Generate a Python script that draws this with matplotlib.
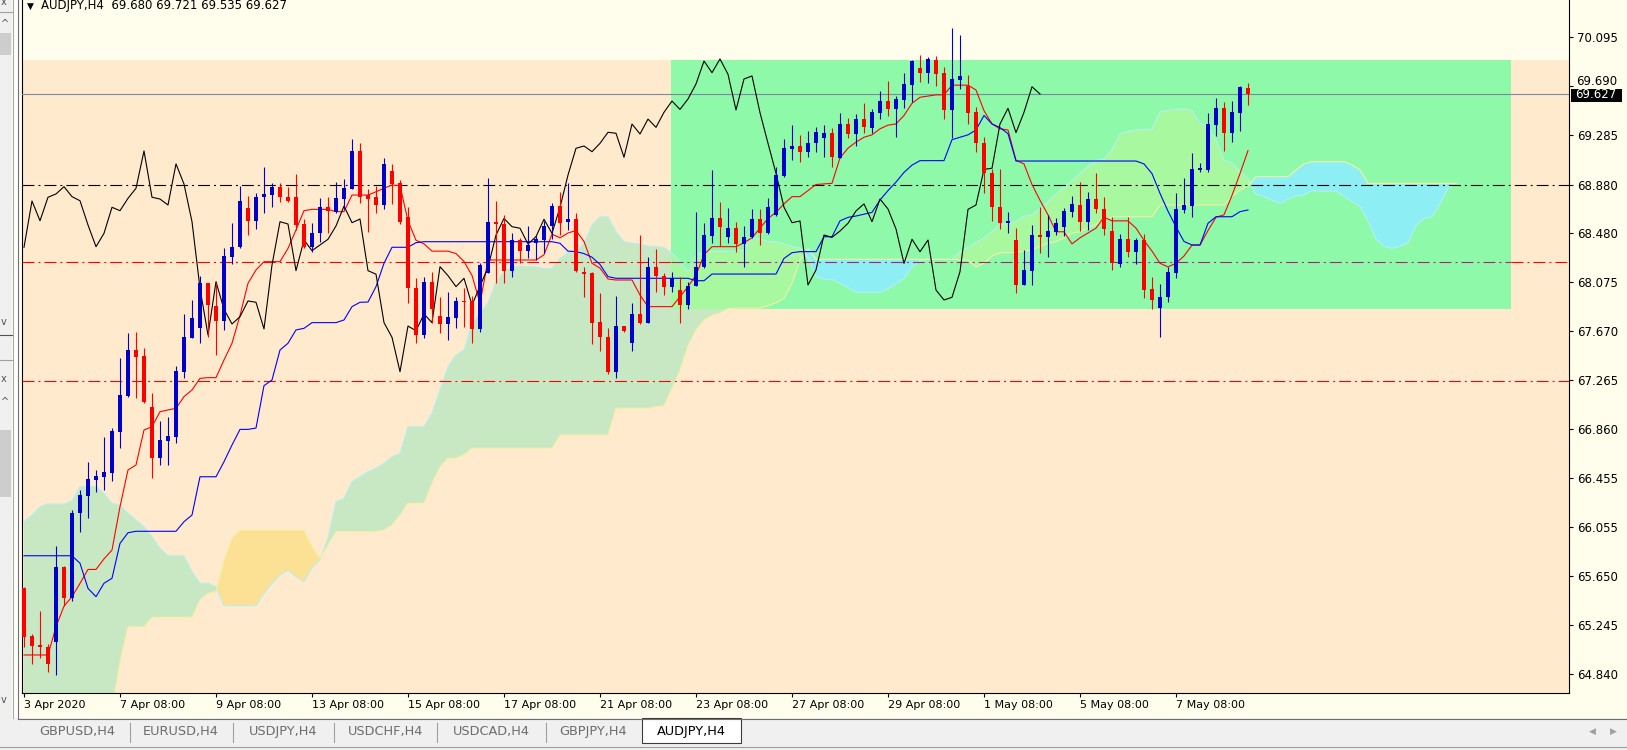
import numpy as np
import matplotlib
matplotlib.use('Agg')
import matplotlib.pyplot as plt
from matplotlib.patches import Rectangle

plt.rcParams['font.family'] = ['DejaVu Sans']
plt.rcParams['lines.scale_dashes'] = False

# ---- candles (H4 bars, index 0 = 3 Apr 2020) ----
opens = [
    65.55, 65.15, 65.075, 65.064, 65.106, 65.721, 65.47, 66.166, 66.312, 66.441,
    66.468, 66.50, 66.84, 67.137, 67.514, 67.465, 67.046, 66.62, 66.765, 66.798,
    67.335, 67.616, 67.693, 68.065, 67.877, 67.756, 68.284, 68.362, 68.684, 68.581,
    68.775, 68.793, 68.862, 68.775, 68.775, 68.554, 68.362, 68.477, 68.692, 68.656,
    68.76, 68.845, 69.157, 68.793, 68.775, 68.711, 68.992, 68.895, 68.614, 68.023,
    67.638, 68.078, 67.797, 67.729, 67.781, 67.92, 67.921, 67.688, 68.153, 68.573,
    68.554, 68.169, 68.422, 68.334, 68.40, 68.42, 68.535, 68.702, 68.57, 68.595,
    68.155, 68.153, 67.743, 67.619, 67.335, 67.712, 67.574, 67.811, 67.74, 68.202,
    68.128, 68.037, 68.009, 67.886, 68.042, 68.197, 68.457, 68.60, 68.45, 68.519,
    68.389, 68.45, 68.593, 68.477, 68.628, 68.95, 69.176, 69.198, 69.151, 69.225,
    69.262, 69.303, 69.102, 69.379, 69.297, 69.42, 69.344, 69.473, 69.569, 69.503,
    69.577, 69.701, 69.844, 69.803, 69.908, 69.803, 69.495, 69.743, 69.693, 69.481,
    69.22, 68.978, 68.692, 68.565, 68.422, 68.051, 68.169, 68.463, 68.444, 68.49,
    68.532, 68.65, 68.711, 68.573, 68.76, 68.678, 68.496, 68.224, 68.428, 68.325,
    68.422, 68.015, 67.858, 67.949, 68.153, 68.67, 68.705, 69.0, 69.0, 69.371,
    69.509, 69.308, 69.473, 69.680]
highs = [
    65.56, 65.17, 65.36, 65.09, 65.90, 65.73, 66.19, 66.36, 66.59, 66.52,
    66.796, 66.87, 67.446, 67.655, 67.665, 67.528, 67.16, 66.928, 66.96, 67.382,
    67.81, 67.927, 68.125, 68.07, 68.07, 68.36, 68.565, 68.868, 68.785, 68.812,
    69.027, 68.895, 68.89, 68.86, 68.967, 68.593, 68.565, 68.766, 68.78, 68.903,
    68.923, 69.253, 69.22, 68.84, 68.866, 69.099, 69.05, 68.92, 68.695, 68.106,
    68.119, 68.16, 67.954, 67.995, 67.954, 68.028, 67.96, 68.23, 68.931, 68.746,
    68.628, 68.477, 68.44, 68.538, 68.455, 68.58, 68.725, 68.815, 68.895, 68.642,
    68.2, 68.16, 67.981, 67.693, 67.962, 67.715, 67.90, 68.463, 68.284, 68.348,
    68.147, 68.16, 68.12, 68.078, 68.655, 68.565, 69.0, 68.733, 68.689, 68.573,
    68.538, 68.675, 68.675, 68.766, 69.027, 69.253, 69.371, 69.288, 69.324, 69.352,
    69.371, 69.344, 69.473, 69.428, 69.462, 69.55, 69.50, 69.652, 69.734, 69.61,
    69.798, 69.908, 69.949, 69.935, 69.94, 69.852, 70.17, 70.114, 69.784, 69.517,
    69.275, 69.005, 69.005, 68.656, 68.519, 68.339, 68.546, 68.697, 68.628, 68.6,
    68.684, 68.785, 68.903, 68.82, 68.972, 68.78, 68.61, 68.47, 68.614, 68.436,
    68.47, 68.119, 68.059, 68.202, 68.812, 68.931, 69.142, 69.06, 69.468, 69.591,
    69.564, 69.569, 69.693, 69.721]
lows = [
    65.06, 64.92, 64.97, 64.858, 64.83, 65.40, 65.44, 66.015, 66.13, 66.34,
    66.36, 66.435, 66.703, 67.13, 67.115, 67.08, 66.46, 66.565, 66.565, 66.749,
    67.28, 67.61, 67.574, 67.62, 67.473, 67.68, 68.224, 68.354, 68.463, 68.51,
    68.642, 68.692, 68.738, 68.738, 68.504, 68.354, 68.32, 68.408, 68.482, 68.642,
    68.675, 68.84, 68.725, 68.49, 68.642, 68.678, 68.719, 68.55, 67.90, 67.569,
    67.61, 67.735, 67.652, 67.597, 67.698, 67.706, 67.574, 67.665, 68.15, 68.065,
    68.065, 68.119, 68.23, 68.271, 68.257, 68.317, 68.428, 68.463, 68.504, 68.16,
    67.954, 67.564, 67.508, 67.316, 67.28, 67.66, 67.508, 67.73, 67.735, 67.995,
    67.968, 67.995, 67.735, 67.85, 68.04, 68.19, 68.40, 68.372, 68.40, 68.325,
    68.202, 68.44, 68.38, 68.47, 68.62, 68.94, 69.083, 69.069, 69.11, 69.151,
    69.11, 69.022, 69.10, 69.262, 69.198, 69.303, 69.303, 69.418, 69.445, 69.27,
    69.509, 69.563, 69.728, 69.72, 69.693, 69.418, 69.262, 69.665, 69.379, 69.151,
    68.807, 68.581, 68.51, 68.482, 67.982, 68.05, 68.051, 68.311, 68.284, 68.463,
    68.455, 68.614, 68.499, 68.504, 68.647, 68.463, 68.175, 68.202, 68.284, 68.224,
    67.94, 67.85, 67.619, 67.913, 68.106, 68.642, 68.61, 68.985, 68.986, 69.28,
    69.159, 69.233, 69.32, 69.535]
closes = [
    65.145, 65.07, 65.065, 64.924, 65.726, 65.47, 66.171, 66.317, 66.449, 66.477,
    66.507, 66.846, 67.143, 67.515, 67.46, 67.088, 66.62, 66.771, 66.804, 67.341,
    67.624, 67.78, 68.065, 67.886, 67.756, 68.29, 68.362, 68.744, 68.581, 68.775,
    68.802, 68.862, 68.78, 68.746, 68.546, 68.367, 68.477, 68.692, 68.664, 68.766,
    68.849, 69.157, 68.775, 68.76, 68.711, 69.05, 68.884, 68.573, 68.023, 67.638,
    68.078, 67.85, 67.729, 67.789, 67.919, 67.908, 67.688, 68.216, 68.573, 68.554,
    68.169, 68.422, 68.334, 68.381, 68.428, 68.538, 68.702, 68.565, 68.595, 68.169,
    68.14, 67.74, 67.619, 67.335, 67.712, 67.673, 67.811, 67.74, 68.202, 68.128,
    68.037, 68.106, 67.886, 68.042, 68.197, 68.463, 68.60, 68.532, 68.519, 68.389,
    68.45, 68.593, 68.477, 68.692, 68.958, 69.179, 69.198, 69.151, 69.22, 69.311,
    69.303, 69.105, 69.379, 69.297, 69.42, 69.352, 69.476, 69.569, 69.50, 69.586,
    69.71, 69.899, 69.803, 69.916, 69.79, 69.495, 69.751, 69.776, 69.473, 69.22,
    68.972, 68.692, 68.565, 68.579, 68.051, 68.175, 68.463, 68.444, 68.496, 68.56,
    68.662, 68.72, 68.573, 68.76, 68.678, 68.513, 68.229, 68.428, 68.325, 68.422,
    68.009, 67.927, 67.949, 68.161, 68.675, 68.711, 69.005, 69.014, 69.38, 69.509,
    69.308, 69.476, 69.687, 69.627]

# ---- ichimoku lines ----
tenkan = [
    64.997, 64.997, 64.997, 64.997, 65.23, 65.40, 65.478, 65.588, 65.703, 65.703,
    65.79, 65.863, 66.221, 66.524, 66.565, 66.854, 66.881, 67.005, 67.019, 67.033,
    67.129, 67.184, 67.28, 67.286, 67.286, 67.432, 67.57, 67.80, 68.065, 68.175,
    68.243, 68.243, 68.243, 68.353, 68.505, 68.664, 68.675, 68.675, 68.675, 68.656,
    68.656, 68.793, 68.793, 68.793, 68.82, 68.849, 68.876, 68.87, 68.58, 68.42,
    68.39, 68.33, 68.33, 68.33, 68.31, 68.245, 68.13, 67.90, 68.257, 68.257,
    68.257, 68.257, 68.257, 68.257, 68.257, 68.30, 68.47, 68.44, 68.48, 68.50,
    68.41, 68.23, 68.19, 68.10, 68.092, 68.092, 68.092, 67.968, 67.872, 67.872,
    67.872, 67.872, 67.954, 68.037, 68.133, 68.30, 68.367, 68.367, 68.367, 68.367,
    68.40, 68.44, 68.52, 68.60, 68.65, 68.72, 68.78, 68.78, 68.83, 68.88,
    68.885, 68.89, 69.10, 69.18, 69.23, 69.27, 69.29, 69.34, 69.37, 69.38,
    69.45, 69.55, 69.60, 69.61, 69.62, 69.62, 69.70, 69.70, 69.70, 69.66,
    69.49, 69.38, 69.34, 69.33, 69.08, 69.05, 68.88, 68.75, 68.63, 68.49,
    68.49, 68.39, 68.44, 68.48, 68.52, 68.61, 68.58, 68.58, 68.58, 68.52,
    68.42, 68.33, 68.23, 68.20, 68.23, 68.29, 68.38, 68.38, 68.50, 68.61,
    68.63, 68.79, 68.97, 69.16]
kijun = (
    [65.816] * 7 + [65.754, 65.547, 65.478, 65.589, 65.63, 65.918, 66.006]
    + [66.018] * 6 + [66.097, 66.152, 66.468, 66.468, 66.468, 66.592, 66.73,
                      66.859, 66.859, 66.87, 67.22, 67.267, 67.514, 67.57, 67.68, 67.693]
    + [67.74] * 4 + [67.762, 67.872, 67.908, 67.91, 68.037, 68.23, 68.362, 68.362,
                     68.362, 68.40]
    + [68.408] * 17 + [68.395, 68.33, 68.326, 68.31, 68.28, 68.22, 68.12]
    + [68.106] * 10 + [68.086, 68.086] + [68.141] * 9
    + [68.27, 68.317, 68.326, 68.326, 68.326, 68.449, 68.449, 68.58, 68.609, 68.62,
       68.635, 68.65, 68.752, 68.83, 68.90, 68.98, 69.04]
    + [69.077] * 4 + [69.25, 69.27, 69.29, 69.33, 69.45, 69.38, 69.35, 69.30]
    + [69.074] * 16 + [69.05, 68.97, 68.807, 68.66, 68.53, 68.41, 68.381, 68.381,
                       68.56, 68.614, 68.614, 68.614, 68.656, 68.67])
span_a = [
    66.097, 66.152, 66.221, 66.243, 66.243, 66.243, 66.27, 66.386, 66.386, 66.386,
    66.331, 66.249, 66.235, 66.166, 66.111, 66.056, 65.973, 65.878, 65.816, 65.816,
    65.816, 65.684, 65.589, 65.589, 65.56, 65.404, 65.404, 65.404, 65.404, 65.404,
    65.506, 65.589, 65.657, 65.698, 65.643, 65.602, 65.721, 65.781, 65.96, 66.262,
    66.29, 66.427, 66.468, 66.51, 66.537, 66.579, 66.633, 66.66, 66.881, 66.881,
    66.881, 66.991, 67.184, 67.376, 67.473, 67.514, 67.734, 67.817, 67.9, 68.078,
    68.16, 68.197, 68.207, 68.202, 68.2, 68.188, 68.188, 68.271, 68.317, 68.326,
    68.395, 68.546, 68.614, 68.614, 68.49, 68.408, 68.395, 68.389, 68.372, 68.367,
    68.362, 68.312, 68.243, 68.16, 68.298, 68.326, 68.33, 68.33, 68.33, 68.33,
    68.34, 68.44, 68.43, 68.41, 68.408, 68.39, 68.37, 68.355, 68.28, 68.12,
    68.098, 68.098, 68.065, 68.03, 67.99, 67.99, 67.99, 67.99, 68.02, 68.06,
    68.105, 68.2, 68.25, 68.262, 68.262, 68.262, 68.262, 68.326, 68.36, 68.40,
    68.44, 68.49, 68.55, 68.56, 68.573, 68.62, 68.63, 68.68, 68.74, 68.80,
    68.86, 68.91, 68.97, 69.03, 69.08, 69.09, 69.17, 69.30, 69.32, 69.33,
    69.335, 69.336, 69.48, 69.49, 69.50, 69.505, 69.49, 69.385, 69.36, 69.25,
    69.08, 69.06, 68.99, 68.93, 68.80, 68.78, 68.75, 68.725, 68.76, 68.785,
    68.795, 68.83, 68.826, 68.826, 68.826, 68.785, 68.74, 68.70, 68.58, 68.43,
    68.37, 68.353, 68.37, 68.40, 68.54, 68.60, 68.614, 68.72, 68.85, 68.89]
span_b = (
    [64.5] * 11 + [64.55, 64.94, 65.23, 65.23, 65.23, 65.308]
    + [65.308] * 5 + [65.45, 65.506, 65.52, 65.78, 65.96]
    + [66.028] * 9 + [65.89, 65.795, 65.905] + [66.015] * 6
    + [66.028, 66.07, 66.15, 66.249, 66.249, 66.249, 66.414, 66.55, 66.62, 66.62, 66.65]
    + [66.703] * 11 + [66.813] * 7 + [67.033] * 5
    + [67.046, 67.055, 67.2, 67.349, 67.55, 67.68, 67.76, 67.80, 67.82, 67.855,
       67.86, 67.86, 67.86, 67.86, 67.88, 67.905, 67.94]
    + [68.065, 68.257, 68.35] + [68.263] * 18
    + [68.257, 68.257, 68.2, 68.23, 68.29, 68.317, 68.317, 68.32, 68.33, 68.34,
       68.37, 68.395, 68.408, 68.44, 68.48, 68.49, 68.52, 68.55, 68.58]
    + [68.614] * 6 + [68.711] * 9 + [68.78, 68.835, 68.87]
    + [68.945] * 5 + [69.0, 69.05] + [69.068] * 5 + [69.041, 69.0] + [68.89] * 12)

price_ticks = [70.095, 69.690, 69.285, 68.880, 68.480, 68.075, 67.670,
               67.265, 66.860, 66.455, 66.055, 65.650, 65.245, 64.840]
date_ticks = [0, 12, 24, 36, 48, 60, 72, 84, 96, 108, 120, 132, 144]
date_labels = ['3 Apr 2020', '7 Apr 08:00', '9 Apr 08:00', '13 Apr 08:00',
               '15 Apr 08:00', '17 Apr 08:00', '21 Apr 08:00', '23 Apr 08:00',
               '27 Apr 08:00', '29 Apr 08:00', '1 May 08:00', '5 May 08:00',
               '7 May 08:00']
tabs = ['GBPUSD,H4', 'EURUSD,H4', 'USDJPY,H4', 'USDCHF,H4',
        'USDCAD,H4', 'GBPJPY,H4', 'AUDJPY,H4']

bid = 69.627
level_black = 68.880
level_red_hi = 68.240
level_red_lo = 67.260
peach_top = 69.909
box_x0, box_x1 = 80.9, 185.9
box_y0, box_y1 = 67.856, 69.909

# colours
BG = '#FFFEEC'
PEACH = '#FFEACD'
GREEN = '#8FF9AA'
CLOUD_UP, CLOUD_DN = '#C8E8C3', '#FCE194'
CLOUD_UP_IN, CLOUD_DN_IN = '#A8F89F', '#8DEEF4'
BULL, BEAR = '#0000CC', '#FF0000'

W, H = 1627, 750
fig = plt.figure(figsize=(W / 100, H / 100), dpi=100, facecolor=BG)
ax = fig.add_axes([22 / W, (H - 693) / H, (1569 - 22) / W, 693 / H])
ax.set_facecolor(BG)
ax.set_xlim(-0.25, 193.125)
ax.set_ylim(64.6832, 70.4029)

# background objects
ax.axhspan(60, peach_top, color=PEACH, lw=0, zorder=0.5)
ax.add_patch(Rectangle((box_x0, box_y0), box_x1 - box_x0, box_y1 - box_y0,
                       facecolor=GREEN, lw=0, zorder=1))

# cloud
a = np.array(span_a)
b = np.array(span_b)
xs = np.arange(len(a))
ax.fill_between(xs, a, b, where=a >= b, interpolate=True, color=CLOUD_UP, lw=0, zorder=2)
ax.fill_between(xs, a, b, where=a < b, interpolate=True, color=CLOUD_DN, lw=0, zorder=2)
clip = Rectangle((box_x0, box_y0), box_x1 - box_x0, box_y1 - box_y0, transform=ax.transData)
for cond, col in ((a >= b, CLOUD_UP_IN), (a < b, CLOUD_DN_IN)):
    pc = ax.fill_between(xs, a, b, where=cond, interpolate=True, color=col, lw=0, zorder=2.2)
    pc.set_clip_path(clip)
ax.plot(xs, a, color='#B4F0F0', lw=0.8, zorder=2.5)
ax.plot(xs, b, color='#F4F0A4', lw=0.8, zorder=2.5)

# horizontal levels
dd = (0, (8.6, 2.9, 1.4, 2.9))
x_lo, x_hi = ax.get_xlim()
ax.axhline(bid, color='#7A8AA2', lw=0.8, zorder=3)
ax.axhline(level_black, color='black', lw=0.8, ls=dd, zorder=3)
ax.axhline(level_red_lo, color='#FF0000', lw=0.8, ls=dd, zorder=3)
ax.plot([x_lo, box_x0], [level_red_hi] * 2, color='#FF0000', lw=0.8, ls=dd, zorder=3)
ax.plot([box_x0, box_x1], [level_red_hi] * 2, color='#A8237C', lw=0.8, ls=dd, zorder=3)
ax.plot([box_x1, x_hi], [level_red_hi] * 2, color='#FF0000', lw=0.8, ls=dd, zorder=3)

# ichimoku lines
x = np.arange(len(closes))
ax.plot(x, tenkan, color='#FF0000', lw=0.8, zorder=4)
ax.plot(x, kijun, color='#0000FF', lw=0.8, zorder=4)
ax.plot(x[:len(closes) - 26], closes[26:], color='black', lw=0.8, zorder=4)

# candles
o = np.array(opens)
c = np.array(closes)
cols = np.where(c >= o, BULL, BEAR)
ax.vlines(x, lows, highs, colors=cols, lw=0.8, zorder=5)
ax.bar(x, np.maximum(np.abs(c - o), 0.012), width=0.62, bottom=np.minimum(o, c),
       color=cols, lw=0, zorder=6)

# axes styling
for side in ('left', 'right', 'bottom'):
    ax.spines[side].set_color('black')
    ax.spines[side].set_linewidth(0.8)
ax.spines['top'].set_visible(False)
ax.yaxis.tick_right()
ax.set_yticks(price_ticks)
# the 69.690 label sits under the bid box; it is drawn by hand a bit higher
ax.set_yticklabels(['' if v == 69.690 else '%.3f' % v for v in price_ticks])
ax.tick_params(axis='y', direction='out', length=3, width=0.8, pad=3,
               labelsize=8.5, colors='black')
ax.set_xticks(date_ticks)
ax.set_xticklabels(date_labels, ha='left')
ax.tick_params(axis='x', direction='out', length=3, width=0.8, pad=2,
               labelsize=8, colors='black')

# window furniture in pixel coordinates
deco = fig.add_axes([0, 0, 1, 1], zorder=10)
deco.set_xlim(0, W)
deco.set_ylim(H, 0)
deco.axis('off')
deco.patch.set_alpha(0)

deco.text(27, 6, '\u25BC', fontsize=6.5, va='center', ha='left', color='black')
deco.text(41, 6, 'AUDJPY,H4  69.680 69.721 69.535 69.627', fontsize=8.5,
          va='center', ha='left', color='black')

# current price box on the scale
deco.text(1576, 81.5, '69.690', color='black', fontsize=8.5, va='center', ha='left')
deco.add_patch(Rectangle((1571, 88.5), 51, 13, facecolor='black', lw=0, zorder=3))
deco.text(1575, 95, '69.627', color='white', fontsize=8.5, va='center', ha='left', zorder=4)

# left navigator strip
deco.add_patch(Rectangle((0, 0), 12.5, 718, facecolor='#F0F0F0', lw=0))
deco.add_patch(Rectangle((13.3, 0), 4.5, 718, facecolor='white', lw=0))
deco.plot([12.9, 12.9], [0, 718], color='#A8A8A8', lw=0.8)
deco.plot([18.4, 18.4], [0, 718], color='#707070', lw=0.8)
deco.add_patch(Rectangle((0, 33), 11, 22, facecolor='#CDCDCD', lw=0))
deco.add_patch(Rectangle((0, 430), 11, 67, facecolor='#CDCDCD', lw=0))
deco.plot([0, 12.5], [12, 12], color='#A0A0A0', lw=0.8)
deco.plot([0, 12.5], [335, 335], color='#505050', lw=0.8)
deco.plot([0, 12.5], [360, 360], color='#A0A0A0', lw=0.8)
for gx, gy, g in ((1, 2, 'x'), (1, 24, '^'), (1, 322, 'v'), (1, 379, 'x'),
                  (1, 402, '^'), (1, 700, 'v')):
    deco.text(gx, gy, g, fontsize=7, va='center', ha='left', color='#505050')

# symbol tabs
deco.add_patch(Rectangle((0, 718), W, 32, facecolor='#F0F0F0', lw=0))
deco.plot([18, W], [718.5, 718.5], color='#6E6E6E', lw=0.8)
deco.plot([0, W], [747, 747], color='#A0A0A0', lw=0.8)
seps = [130, 233.5, 334, 437.5, 546]
for sx in seps:
    deco.plot([sx, sx], [723, 742], color='#A0A0A0', lw=0.8)
deco.add_patch(Rectangle((642, 718), 99, 25, facecolor='white', edgecolor='#3C3C3C', lw=0.8))
tab_cx = [77, 181, 283, 386, 491, 593, 691]
for t, tx in zip(tabs, tab_cx):
    active = t == 'AUDJPY,H4'
    deco.text(tx, 731, t, fontsize=9.3, ha='center', va='center',
              color='black' if active else '#6D6D6D')
deco.text(1592, 731, '\u25C0', fontsize=6.5, ha='center', va='center', color='#A0A0A0')
deco.text(1613, 731, '\u25B6', fontsize=6.5, ha='center', va='center', color='#A0A0A0')

fig.savefig('out.png', dpi=100, facecolor=BG)
